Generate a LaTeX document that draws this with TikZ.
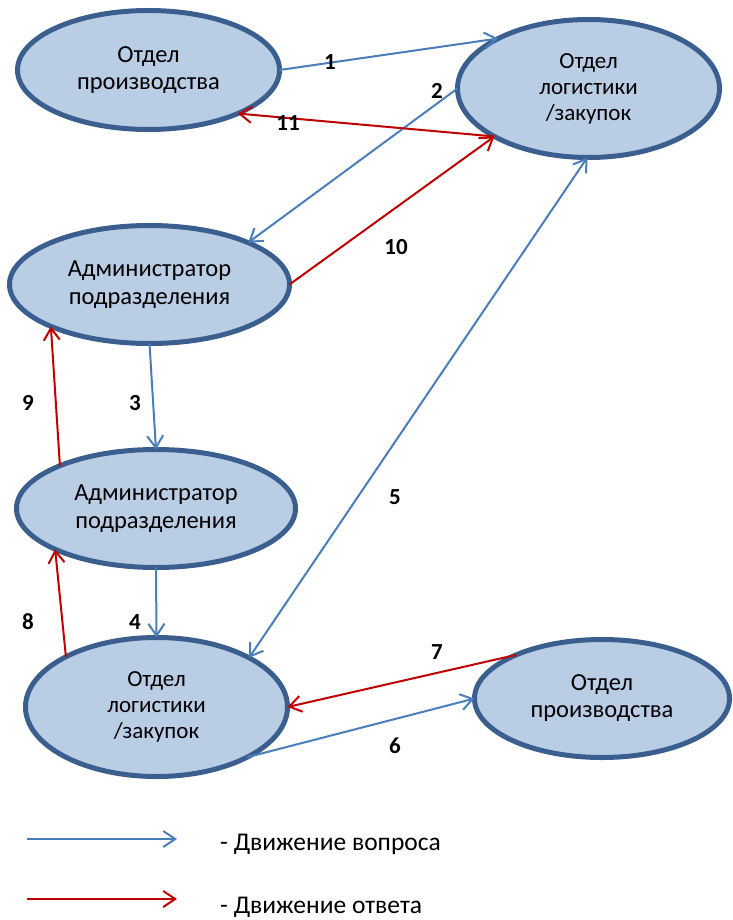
\documentclass[tikz,border=0pt]{standalone}
\usepackage{fontspec}
\setmainfont{Carlito}
\usetikzlibrary{shapes.geometric,arrows.meta}
\definecolor{unitfill}{HTML}{B9CDE5}
\definecolor{unitedge}{HTML}{3A5F8E}
\definecolor{askblue}{HTML}{4A7EBB}
\definecolor{replyred}{HTML}{C00000}
\begin{document}
\begin{tikzpicture}[x=1pt,y=-1pt,
  unit/.style={ellipse, draw=unitedge, fill=unitfill, line width=5pt,
    inner sep=0pt, outer sep=0pt, align=center,
    font=\fontsize{24.5}{27}\selectfont},
  small/.style={font=\fontsize{23}{26}\selectfont},
  wide/.style={font=\fontsize{24.5}{28}\selectfont},
  tip/.style={-{Straight Barb[length=12pt,width=16pt]}},
  ask/.style={draw=askblue, line width=2pt, tip},
  reply/.style={draw=replyred, line width=2pt, tip},
  num/.style={font=\bfseries\fontsize{23}{26}\selectfont, inner sep=0pt},
  legend/.style={font=\fontsize{25.5}{28}\selectfont, inner sep=0pt, anchor=base west}]
\useasboundingbox (0,0) rectangle (732,920);

% units
\node[unit, minimum width=262pt, minimum height=119pt] (prodTop) at (148.5,70) {Отдел\\производства};
\node[unit, small, minimum width=262pt, minimum height=138pt] (logTop) at (588.5,88.5) {Отдел\\логистики\\/закупок};
\node[unit, wide, minimum width=280pt, minimum height=118pt] (adminA) at (149.5,284.5) {Администратор\\подразделения};
\node[unit, wide, minimum width=279pt, minimum height=118pt] (adminB) at (156,508.5) {Администратор\\подразделения};
\node[unit, small, minimum width=262pt, minimum height=139pt] (logBot) at (156.5,707) {Отдел\\логистики\\/закупок};
\node[unit, minimum width=255pt, minimum height=118pt] (prodBot) at (602,698.5) {Отдел\\производства};

% question flow
\draw[ask] (prodTop.0) -- (logTop.151);
\draw[ask] (logTop.180) -- (adminA.23);
\draw[ask] (adminA.270) -- (adminB.90);
\draw[ask] (adminB.270) -- (logBot.90);
\draw[ask, {Straight Barb[length=12pt,width=16pt]}-{Straight Barb[length=12pt,width=16pt]}] (logTop.269) -- (logBot.28.2);
\draw[ask] (logBot.331.35) -- (prodBot.180);

% answer flow
\draw[reply] (prodBot.153.95) -- (logBot.0);
\draw[reply] (logBot.151.4) -- (adminB.202.7);
\draw[reply] (adminB.156.3) -- (adminA.203.2);
\draw[reply] (adminA.0) -- (logTop.207.7);
\draw[reply] (logTop.207.9) -- (prodTop.334.8);

% step numbers
\node[num] (n1) at (330,62) {1};
\node[num] (n2) at (437,91) {2};
\node[num] (n3) at (135,403) {3};
\node[num] (n4) at (135,622) {4};
\node[num] (n5) at (395,497) {5};
\node[num] (n6) at (395,746) {6};
\node[num] (n7) at (437,652) {7};
\node[num] (n8) at (28,622) {8};
\node[num] (n9) at (28,403) {9};
\node[num] (n10) at (396,247) {10};
\node[num] (n11) at (288,123) {11};

% legend
\coordinate (askFrom) at (27,839);
\coordinate (askTo) at (177,839);
\coordinate (replyFrom) at (27,899);
\coordinate (replyTo) at (177,899);
\draw[ask] (askFrom) -- (askTo);
\draw[reply] (replyFrom) -- (replyTo);
\node[legend] (askText) at (220,850) {- Движение вопроса};
\node[legend] (replyText) at (220,913) {- Движение ответа};
\end{tikzpicture}
\end{document}
